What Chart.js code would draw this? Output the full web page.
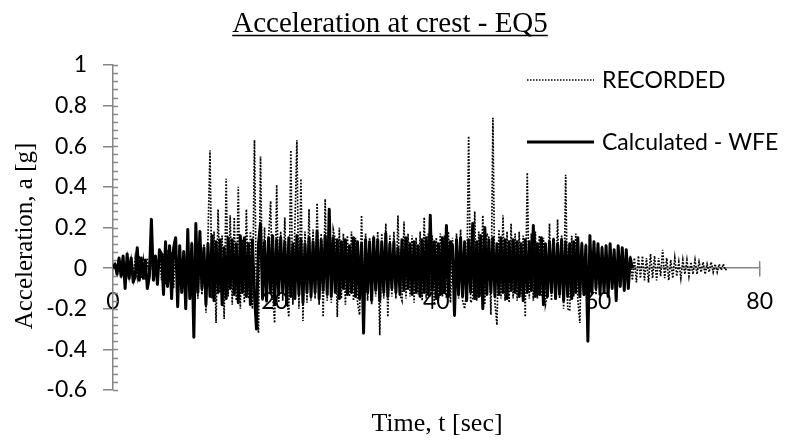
<!DOCTYPE html>
<html>
<head>
<meta charset="utf-8">
<script src="https://cdn.jsdelivr.net/npm/chart.js@4.4.1/dist/chart.umd.min.js"></script>
<style>
html,body{margin:0;padding:0;background:#fff;}
#wrap{width:785px;height:443px;position:relative;}
</style>
</head>
<body>
<div id="wrap"><canvas id="c"></canvas></div>
<script>
// ---- data ----
const timeStep = 0.25; // s between samples
const xTicks = [0, 20, 40, 60, 80];
const yTicks = [-0.6, -0.4, -0.2, 0, 0.2, 0.4, 0.6, 0.8, 1];
const seriesNames = ["RECORDED", "Calculated - WFE"];

const recorded = [
 0, .02, -.02, .03, -.03, .04, -.04, .05, -.04, .04, -.05, .05, -.04, .06, -.05, .04,
 -.06, .05, -.04, .07, -.06, .06, -.07, .08, -.06, .07, -.08, .09, -.07, .08, -.10, .10,
 -.09, .11, -.10, .09, -.12, .12, -.11, .13, -.14, .12, -.15, .11, -.13, .12, -.22, .15,
 .58, -.15, .18, -.27, .29, -.12, .16, -.25, .44, -.14, .26, -.18, .25, -.16, .40, -.20,
 .14, -.17, .29, -.15, .18, -.20, .63, -.18, -.32, .55, -.16, .20, -.18, .15, .33, -.14,
 -.27, .41, -.17, .18, -.16, .25, -.15, -.24, .58, -.18, .20, .63, -.20, .44, -.26, .18,
 -.17, .29, -.16, .19, -.15, .32, -.18, .17, -.24, .34, -.16, .22, -.17, .19, .14, -.24,
 .20, -.15, .17, -.18, .16, -.14, .18, -.16, .15, -.17, -.23, .26, -.15, .17, -.16, .15,
 -.18, .16, -.14, .18, -.33, .17, -.15, .22, -.24, .16, -.14, .18, -.15, .26, -.13, -.16,
 .23, -.15, .17, -.14, .16, -.17, .15, -.13, .18, -.16, .25, -.15, .17, -.14, .16, -.18,
 .15, -.16, .17, -.14, .16, -.15, .18, -.17, .15, -.24, .17, -.15, .19, -.16, -.20, -.12,
 .65, -.17, -.15, .28, -.16, .18, -.14, .26, -.18, .17, .15, -.23, .74, -.17, -.28, .19,
 -.15, .26, -.16, .18, -.17, .22, -.15, .17, -.16, .18, -.14, .16, -.24, .47, -.15, .17,
 -.16, .18, -.15, .16, -.14, .15, -.18, -.13, .22, -.16, .15, -.14, .24, -.15, .16, -.20,
 .46, -.20, -.21, .16, -.14, .17, -.15, -.27, .13, -.14, .12, -.15, .13, -.12, .11, -.13,
 .10, -.12, .11, -.10, .09, -.11, .10, -.09, .08, -.10, .09, -.08, .07, -.09, .08, -.07,
 .06, -.06, .05, -.07, .06, -.05, .06, -.06, .05, -.07, .07, -.05, .06, -.06, .05, -.04,
 .09, -.05, .05, -.06, .04, -.05, .05, -.04, .03, -.05, .04, -.03, .04, -.04, .03, -.03,
 .04, -.03, .03, -.02, .03, -.03, .02, -.02, .03, -.02, .02, -.02, .02, -.01, .02, -.01,
 0
];

const calculated = [
 0, .02, -.03, .05, -.04, .06, -.10, .07, -.05, .05, -.07, -.04, .10, -.06, .05, -.05,
 .04, -.10, -.04, .24, -.06, .06, -.08, .09, .07, -.13, .13, -.09, .11, -.15, .10, .15,
 -.19, .11, -.12, .08, -.20, .19, -.15, .12, -.34, .22, -.12, .18, -.10, .10, -.18, .12,
 -.14, .16, -.16, .13, -.12, .14, -.18, .10, -.15, .15, -.10, .14, -.13, .12, -.17, .16,
 -.12, .15, -.14, .12, -.18, .14, -.13, -.30, .12, .22, -.15, .13, -.16, .15, -.12, .16,
 -.18, .14, -.13, .15, -.12, .13, -.18, .15, -.14, .12, -.15, .16, -.13, .14, -.17, .12,
 -.12, .15, -.14, .13, -.12, .18, -.15, .14, -.11, .16, -.13, .29, -.14, .15, -.12, .14,
 -.15, .13, -.10, .14, -.13, .11, -.12, .15, -.14, .13, -.15, .12, -.32, .14, -.12, .13,
 -.16, .15, -.11, .14, -.16, .13, -.12, .17, -.14, .12, -.10, .13, -.12, .10, -.13, .14,
 -.11, .15, -.10, .12, -.13, .13, -.12, .11, -.14, .14, -.12, .15, -.13, .26, -.11, .13,
 -.15, .12, -.13, .15, -.12, .21, -.14, .13, .11, -.23, .14, -.13, .15, -.14, .13, -.16,
 .14, -.12, .22, -.15, .13, -.14, .16, -.20, .20, -.13, .14, -.12, .15, -.14, .12, -.13,
 .15, -.12, .14, -.15, .13, -.11, .14, -.12, .13, -.14, .12, -.16, .14, -.12, .13, -.11,
 .21, -.14, .12, -.13, .15, -.18, .12, -.14, .13, -.12, .14, -.15, .12, -.13, .14, -.16,
 .13, -.14, .12, -.15, .13, -.12, .15, -.14, .12, -.13, .11, -.36, .16, -.12, .13, -.10,
 .12, -.13, .10, -.12, .11, -.14, .12, -.10, .09, -.16, .11, -.09, .10, -.11, .09, -.10,
 .05, 0
];

// ---- build datasets from the arrays ----
const toPoints = arr => arr.map((v, i) => ({ x: i * timeStep, y: v }));

const AXIS_GRAY = '#868686';
const TICK_FONT = { family: 'Lato', size: 23 };

const decor = {
  id: 'decor',
  beforeDatasetsDraw(chart) {
    const ctx = chart.ctx;
    const xs = chart.scales.x, ys = chart.scales.y;
    const ax = ys.left + ys.width; // y-axis line x
    const ay = ys.getPixelForValue(0);
    ctx.save();
    ctx.strokeStyle = AXIS_GRAY;
    ctx.lineWidth = 1.5;
    // y minor + inward major ticks
    for (let k = 0; k <= 40; k++) {
      const v = -0.6 + k * 0.04;
      const py = Math.round(ys.getPixelForValue(v)) + 0.5;
      ctx.beginPath();
      ctx.moveTo(ax, py);
      ctx.lineTo(ax + 5, py);
      ctx.stroke();
    }
    // x ticks upward part
    xTicks.forEach(v => {
      const px = xs.getPixelForValue(v);
      ctx.beginPath();
      ctx.moveTo(px, ay - 7);
      ctx.lineTo(px, ay);
      ctx.stroke();
    });
    ctx.restore();
  },
  afterDraw(chart) {
    const ctx = chart.ctx;
    ctx.save();
    ctx.fillStyle = '#000';
    // title
    ctx.font = '29px "Liberation Serif"';
    ctx.textAlign = 'center';
    ctx.textBaseline = 'alphabetic';
    const title = 'Acceleration at crest - EQ5';
    const tw = ctx.measureText(title).width;
    const tx = 390, tyb = 32;
    ctx.fillText(title, tx, tyb);
    ctx.strokeStyle = '#000';
    ctx.lineWidth = 1.3;
    ctx.beginPath();
    ctx.moveTo(tx - tw / 2, tyb + 3.5);
    ctx.lineTo(tx + tw / 2, tyb + 3.5);
    ctx.stroke();
    // x axis title
    ctx.font = '26px "Liberation Serif"';
    ctx.fillText('Time, t [sec]', 437, 431);
    // y axis title
    ctx.save();
    ctx.translate(32, 236);
    ctx.rotate(-Math.PI / 2);
    ctx.font = '25px "Liberation Serif"';
    ctx.textBaseline = 'alphabetic';
    ctx.fillText('Acceleration, a [g]', 0, 0);
    ctx.restore();
    // legend
    ctx.font = '23px Lato';
    ctx.textAlign = 'left';
    ctx.textBaseline = 'middle';
    const items = [
      { y: 80, dash: [1.5, 1.5], w: 1.3 },
      { y: 142, dash: [], w: 2.8 }
    ];
    items.forEach((it, i) => {
      ctx.strokeStyle = '#000';
      ctx.lineWidth = it.w;
      ctx.setLineDash(it.dash);
      ctx.beginPath();
      ctx.moveTo(527, it.y);
      ctx.lineTo(594, it.y);
      ctx.stroke();
      ctx.setLineDash([]);
      ctx.fillText(seriesNames[i], 602, it.y + 1);
    });
    ctx.restore();
  }
};

new Chart(document.getElementById('c'), {
  type: 'line',
  data: {
    datasets: [
      {
        label: seriesNames[0],
        data: toPoints(recorded),
        borderColor: '#000',
        borderWidth: 1.7,
        borderDash: [1.7, 1.5],
        pointRadius: 0,
        tension: 0,
        fill: false,
        order: 1
      },
      {
        label: seriesNames[1],
        data: toPoints(calculated),
        borderColor: '#000',
        borderWidth: 3,
        borderJoinStyle: 'round',
        pointRadius: 0,
        tension: 0,
        fill: false,
        order: 0
      }
    ]
  },
  options: {
    responsive: true,
    maintainAspectRatio: false,
    animation: false,
    events: [],
    layout: { padding: { top: 65, bottom: 53, left: 0, right: 21 } },
    plugins: { legend: { display: false }, tooltip: { enabled: false }, title: { display: false } },
    scales: {
      x: {
        type: 'linear',
        position: { y: 0 },
        min: 0, max: 80,
        afterBuildTicks: s => { s.ticks = xTicks.map(v => ({ value: v })); },
        ticks: { font: TICK_FONT, color: '#000', padding: 12, maxRotation: 0 },
        grid: { drawOnChartArea: false, drawTicks: true, tickLength: 8, color: AXIS_GRAY, lineWidth: 1.5 },
        border: { display: true, color: AXIS_GRAY, width: 1.5 }
      },
      y: {
        type: 'linear',
        min: -0.6, max: 1,
        afterBuildTicks: s => { s.ticks = yTicks.map(v => ({ value: v })); },
        afterFit: s => { s.width = 113; },
        ticks: { font: TICK_FONT, color: '#000', padding: 16, callback: v => String(Math.round(v * 10) / 10) },
        grid: { drawOnChartArea: false, drawTicks: true, tickLength: 10, color: AXIS_GRAY, lineWidth: 1.5 },
        border: { display: true, color: AXIS_GRAY, width: 1.5 }
      }
    }
  },
  plugins: [decor]
});
</script>
</body>
</html>
